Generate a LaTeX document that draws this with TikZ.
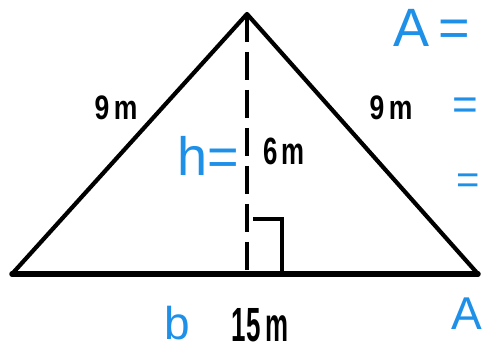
\documentclass[tikz,border=0pt]{standalone}
\usepackage{fontspec}
\setmainfont{Liberation Sans}
\usetikzlibrary{calc}

\definecolor{penblue}{RGB}{30,144,232}

\begin{document}
\begin{tikzpicture}[
    x=1pt, y=-1pt,
    side/.style={line width=4.2pt, line join=round, line cap=round},
    base/.style={line width=5.5pt, line cap=round},
    height/.style={line width=3.2pt, dash pattern=on 28pt off 10pt},
    rightmark/.style={line width=3.2pt},
    meas/.style={font=\bfseries\fontsize{#1}{#1}\selectfont, inner sep=0pt},
    meas/.default=34,
    pen/.style={text=penblue, font=\fontsize{#1}{#1}\selectfont, inner sep=0pt, anchor=base west},
    pen/.default=54
]
\useasboundingbox (0,0) rectangle (483,352);

% --- Corners ---
\coordinate (apex)  at (247, 14);
\coordinate (left)  at (12, 274);
\coordinate (right) at (478, 274);
\coordinate (foot)  at (247, 274);

% --- Triangle ---
\draw[side] (left) -- (apex) -- (right);
\draw[base] (left) -- (right);

% --- Height and right angle ---
\draw[height] (apex) -- (foot);
\draw[rightmark] ($(foot)+(6,-55)$) -- ($(foot)+(35,-55)$) -- ($(foot)+(35,0)$);

% --- Measures ---
\node[meas=34, xscale=0.78] (leftside)  at (116, 108) {9\,m};
\node[meas=34, xscale=0.78] (rightside) at (391, 108) {9\,m};
\node[meas=38, xscale=0.68] (hval)      at (284, 151) {6\,m};
\node[meas=48, xscale=0.54] (bval)      at (260, 325) {15\,m};

% --- Handwriting ---
\node[pen]    (area)  at (393, 47)  {A\,=};
\node[pen=44] (eqone) at (452, 120) {=};
\node[pen=40] (eqtwo) at (456, 194) {=};
\node[pen=46] (areb)  at (451, 330) {A};
\node[pen]    (hlab)  at (177, 176) {h=};
\node[pen=46] (blab)  at (164, 340) {b};

\end{tikzpicture}
\end{document}
